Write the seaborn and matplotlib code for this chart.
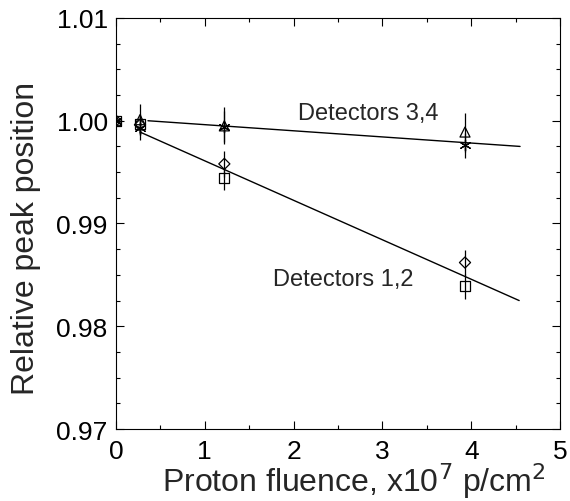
import matplotlib
matplotlib.use("Agg")
import matplotlib.pyplot as plt
import pandas as pd
import seaborn as sns

# proton fluence, x1e7 p/cm^2
FLUENCE = [0.0, 0.27, 1.22, 3.93]

# relative peak position per detector, with error bars
DET1 = [1.0000, 0.9997, 0.9944, 0.9839]   # square
DET2 = [1.0000, 0.9996, 0.9958, 0.9862]   # diamond
DET3 = [1.0000, 1.0001, 0.9995, 0.9989]   # triangle
DET4 = [1.0000, 0.9993, 0.9994, 0.9976]   # asterisk
ERR1 = [0.0, 0.0010, 0.0011, 0.0012]
ERR2 = [0.0, 0.0010, 0.0013, 0.0012]
ERR3 = [0.0, 0.0015, 0.0018, 0.0019]
ERR4 = [0.0, 0.0012, 0.0015, 0.0012]

# linear fits
FIT12_X = [0.27, 4.54]
FIT12_Y = [0.9989, 0.9825]
FIT34_X = [0.36, 4.55]
FIT34_Y = [1.0000, 0.9975]

X_TICKS = [0, 1, 2, 3, 4, 5]
Y_TICKS = [0.97, 0.98, 0.99, 1.00, 1.01]

sns.set_style("ticks")
plt.rcParams["font.family"] = ["Liberation Sans", "DejaVu Sans"]

fig = plt.figure(figsize=(5.7, 5.02), dpi=100)
ax = fig.add_axes([0.2035, 0.1434, 0.779, 0.8188])

# (values, errors, marker, size, face colour)
series = [
    (DET1, ERR1, "s", 52, "none"),
    (DET2, ERR2, "D", 32, "none"),
    (DET3, ERR3, "^", 52, "none"),
    (DET4, ERR4, (6, 2, 0), 60, "black"),
]

for vals, errs, marker, size, face in series:
    df = pd.DataFrame({"fluence": FLUENCE, "pos": vals})
    ax.errorbar(FLUENCE, vals, yerr=errs, fmt="none", ecolor="black",
                elinewidth=0.9, capsize=0, zorder=2)
    sns.scatterplot(data=df, x="fluence", y="pos", marker=marker, s=size,
                    facecolor=face, edgecolor="black", linewidth=0.9,
                    ax=ax, zorder=3, legend=False)

for fx, fy in [(FIT12_X, FIT12_Y), (FIT34_X, FIT34_Y)]:
    fit = pd.DataFrame({"fluence": fx, "pos": fy})
    sns.lineplot(data=fit, x="fluence", y="pos", color="black",
                 linewidth=1.0, ax=ax)

ax.text(2.05, 1.0008, "Detectors 3,4", fontsize=17, va="center", ha="left")
ax.text(1.77, 0.9846, "Detectors 1,2", fontsize=17, va="center", ha="left")

ax.set_xlim(0, 5)
ax.set_ylim(0.97, 1.01)
ax.set_xticks(X_TICKS)
ax.set_yticks(Y_TICKS)
ax.set_yticklabels([f"{v:.2f}" for v in Y_TICKS])
ax.set_xticks([0.5, 1.5, 2.5, 3.5, 4.5], minor=True)
ax.set_yticks([0.9725, 0.975, 0.9775, 0.9825, 0.985, 0.9875,
               0.9925, 0.995, 0.9975, 1.0025, 1.005, 1.0075], minor=True)
ax.tick_params(which="both", direction="in", top=True, right=True,
               width=0.8, colors="black", labelsize=19)
ax.tick_params(which="major", length=6)
ax.tick_params(which="minor", length=3)
ax.tick_params(axis="x", pad=7)
ax.tick_params(axis="y", pad=6)
for sp in ax.spines.values():
    sp.set_visible(True)
    sp.set_linewidth(0.8)
    sp.set_color("black")

ax.set_xlabel("Proton fluence, x10$^{7}$ p/cm$^{2}$", fontsize=23)
ax.set_ylabel("Relative peak position", fontsize=23)
ax.xaxis.set_label_coords(0.536, -0.077)
ax.yaxis.set_label_coords(-0.168, 0.467)

fig.savefig("out.png", dpi=100)
